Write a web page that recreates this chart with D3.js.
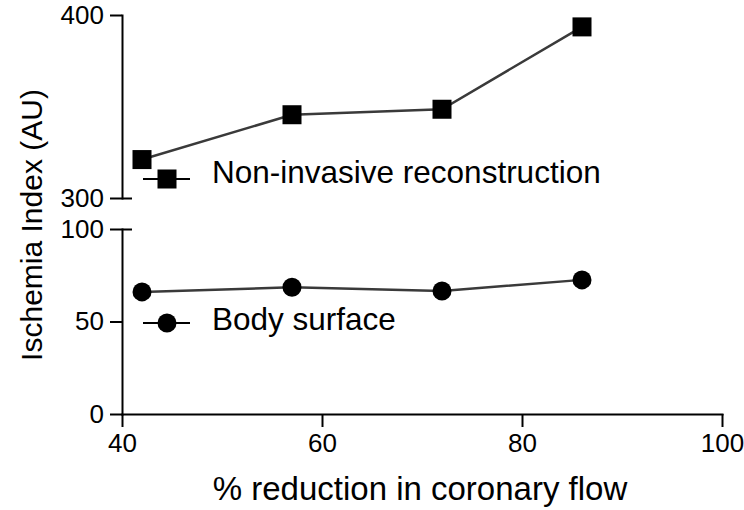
<!DOCTYPE html>
<html>
<head>
<meta charset="utf-8">
<script src="https://cdn.jsdelivr.net/npm/d3@7/dist/d3.min.js"></script>
<style>
  body { margin: 0; background: #fff; }
  svg { display: block; }
  text { font-family: "Liberation Sans", Arial, sans-serif; fill: #000; }
  .axis path, .axis line { stroke: #000; stroke-width: 2; }
</style>
</head>
<body>
<svg id="chart" width="744" height="510"></svg>
<script>
// % reduction in coronary flow
const flow = [42, 57, 72, 86];
// ischemia index, two series
const nonInvasive = [321, 345.5, 348.5, 393.5];
const bodySurface = [66, 68.5, 66.5, 72.5];

const xTicks = [40, 60, 80, 100];
const topTicks = [300, 400];
const bottomTicks = [0, 50, 100];

const svg = d3.select('#chart');

const x = d3.scaleLinear().domain([40, 100]).range([122, 722]);
const yTop = d3.scaleLinear().domain([300, 400]).range([198, 15]);
const yBot = d3.scaleLinear().domain([0, 100]).range([414, 229]);

const tickFont = 26;

// x axis
const xAxis = svg.append('g')
  .attr('class', 'axis')
  .attr('transform', `translate(0,${yBot(0)})`)
  .call(d3.axisBottom(x).tickValues(xTicks).tickSize(13).tickSizeOuter(0).tickPadding(7));

// y axis, top segment
const topAxis = svg.append('g')
  .attr('class', 'axis')
  .attr('transform', `translate(${x(40)},0)`)
  .call(d3.axisLeft(yTop).tickValues(topTicks).tickSize(12).tickSizeOuter(0).tickPadding(6));

// y axis, bottom segment
const botAxis = svg.append('g')
  .attr('class', 'axis')
  .attr('transform', `translate(${x(40)},0)`)
  .call(d3.axisLeft(yBot).tickValues(bottomTicks).tickSize(12).tickSizeOuter(0).tickPadding(6));

[xAxis, topAxis, botAxis].forEach(g => {
  g.selectAll('text').style('font-size', tickFont + 'px').attr('fill', '#000');
  g.select('.domain').attr('stroke-linecap', 'square');
});

// break marks: ticks cross the axis where the segments meet
topAxis.selectAll('.tick').filter(d => d === 300)
  .append('line').attr('x2', 10).attr('stroke', '#000').attr('stroke-width', 2);
botAxis.selectAll('.tick').filter(d => d === 100)
  .append('line').attr('x2', 10).attr('stroke', '#000').attr('stroke-width', 2);

// series lines
const lineTop = d3.line().x((d, i) => x(flow[i])).y(d => yTop(d));
const lineBot = d3.line().x((d, i) => x(flow[i])).y(d => yBot(d));

svg.append('path').datum(nonInvasive)
  .attr('d', lineTop).attr('fill', 'none').attr('stroke', '#3a3a3a').attr('stroke-width', 2.5);
svg.append('path').datum(bodySurface)
  .attr('d', lineBot).attr('fill', 'none').attr('stroke', '#3a3a3a').attr('stroke-width', 2.5);

const sq = 19;
svg.selectAll('.sq').data(nonInvasive).join('rect')
  .attr('x', (d, i) => x(flow[i]) - sq / 2)
  .attr('y', d => yTop(d) - sq / 2)
  .attr('width', sq).attr('height', sq)
  .attr('fill', '#000');

svg.selectAll('.dot').data(bodySurface).join('circle')
  .attr('cx', (d, i) => x(flow[i]))
  .attr('cy', d => yBot(d))
  .attr('r', 9.5)
  .attr('fill', '#000');

// legends
const legends = [
  { label: 'Non-invasive reconstruction', shape: 'square', y: 179, dy: 4 },
  { label: 'Body surface', shape: 'circle', y: 323, dy: 7 }
];
legends.forEach(l => {
  const g = svg.append('g').attr('transform', `translate(167,${l.y})`);
  g.append('line').attr('x1', -24).attr('x2', 23).attr('stroke', '#000').attr('stroke-width', 2);
  if (l.shape === 'square') {
    g.append('rect').attr('x', -sq / 2).attr('y', -sq / 2).attr('width', sq).attr('height', sq).attr('fill', '#000');
  } else {
    g.append('circle').attr('r', 9.5).attr('fill', '#000');
  }
  g.append('text').attr('x', 45).attr('y', l.dy).style('font-size', '31.5px').text(l.label);
});

// axis titles
svg.append('text')
  .attr('transform', `translate(42,225) rotate(-90)`)
  .attr('text-anchor', 'middle')
  .style('font-size', '30px')
  .text('Ischemia Index (AU)');

svg.append('text')
  .attr('x', 420).attr('y', 500)
  .attr('text-anchor', 'middle')
  .style('font-size', '33px')
  .text('% reduction in coronary flow');
</script>
</body>
</html>
